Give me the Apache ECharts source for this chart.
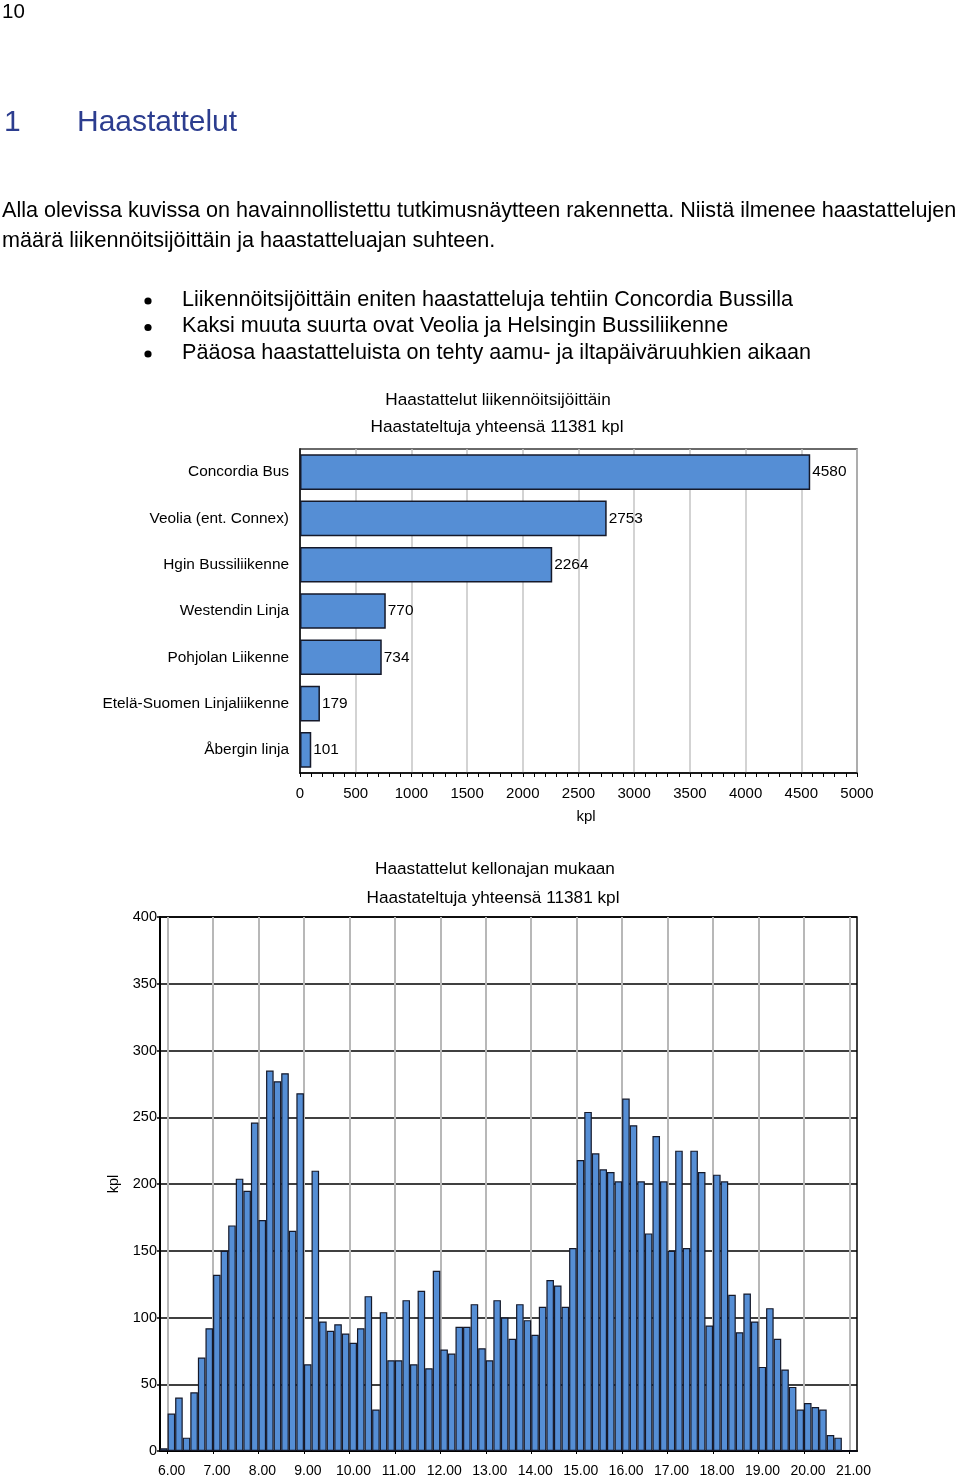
<!DOCTYPE html>
<html>
<head>
<meta charset="utf-8">
<script src="https://cdn.jsdelivr.net/npm/echarts@6/dist/echarts.min.js"></script>
<style>
html,body{margin:0;padding:0;background:#fff;}
#main{width:960px;height:1479px;}
</style>
</head>
<body>
<div id="main"></div>
<script>
// ---- Data: operators chart ----
const operators = ['Concordia Bus', 'Veolia (ent. Connex)', 'Hgin Bussiliikenne', 'Westendin Linja', 'Pohjolan Liikenne', 'Etelä-Suomen Linjaliikenne', 'Åbergin linja'];
const operatorCounts = [4580, 2753, 2264, 770, 734, 179, 101];

// ---- Data: time-of-day histogram (10-minute bins, label = bin start) ----
const binStarts = [
  '5.50',
  '6.00','6.10','6.20','6.30','6.40','6.50',
  '7.00','7.10','7.20','7.30','7.40','7.50',
  '8.00','8.10','8.20','8.30','8.40','8.50',
  '9.00','9.10','9.20','9.30','9.40','9.50',
  '10.00','10.10','10.20','10.30','10.40','10.50',
  '11.00','11.10','11.20','11.30','11.40','11.50',
  '12.00','12.10','12.20','12.30','12.40','12.50',
  '13.00','13.10','13.20','13.30','13.40','13.50',
  '14.00','14.10','14.20','14.30','14.40','14.50',
  '15.00','15.10','15.20','15.30','15.40','15.50',
  '16.00','16.10','16.20','16.30','16.40','16.50',
  '17.00','17.10','17.20','17.30','17.40','17.50',
  '18.00','18.10','18.20','18.30','18.40','18.50',
  '19.00','19.10','19.20','19.30','19.40','19.50',
  '20.00','20.10','20.20','20.30','20.40','20.50',
  '21.00'
];
const binCounts = [
  2,
  28, 40, 10, 44, 70, 92,
  132, 150, 169, 204, 195, 246,
  173, 285, 277, 283, 165, 268,
  65, 210, 97, 90, 95, 88,
  81, 92, 116, 31, 104, 68,
  68, 113, 65, 120, 62, 135,
  76, 73, 93, 93, 110, 77,
  68, 113, 100, 84, 110, 98,
  87, 108, 128, 124, 108, 152,
  218, 254, 223, 211, 209, 202,
  264, 244, 202, 163, 236, 202,
  150, 225, 152, 225, 209, 94,
  207, 202, 117, 89, 118, 97,
  63, 107, 84, 61, 48, 31,
  36, 33, 31, 12, 10, 0,
  0
];
const binEdgeEnd = '21.10';
const hourLabels = ['6.00','7.00','8.00','9.00','10.00','11.00','12.00','13.00','14.00','15.00','16.00','17.00','18.00','19.00','20.00','21.00'];

// ---- Texts ----
const pageNumber = '10';
const headingNumber = '1';
const headingText = 'Haastattelut';
const paragraphLines = [
  'Alla olevissa kuvissa on havainnollistettu tutkimusnäytteen rakennetta. Niistä ilmenee haastattelujen',
  'määrä liikennöitsijöittäin ja haastatteluajan suhteen.'
];
const bullets = [
  'Liikennöitsijöittäin eniten haastatteluja tehtiin Concordia Bussilla',
  'Kaksi muuta suurta ovat Veolia ja Helsingin Bussiliikenne',
  'Pääosa haastatteluista on tehty aamu- ja iltapäiväruuhkien aikaan'
];
const chart1Title = ['Haastattelut liikennöitsijöittäin', 'Haastateltuja yhteensä 11381 kpl'];
const chart2Title = ['Haastattelut kellonajan mukaan', 'Haastateltuja yhteensä 11381 kpl'];
const unitName = 'kpl';

// ---- Build ----
const FONT = '"Liberation Sans", Arial, Helvetica, sans-serif';
const BLUE = '#558ed5';
const EDGE = '#15192a';
const binEdges = binStarts.concat([binEdgeEnd]);
const isHour = (idx) => hourLabels.indexOf(binEdges[idx]) >= 0;

function txt(x, y, s, size, opts) {
  opts = opts || {};
  return {
    type: 'text', x: x, y: y, silent: true,
    style: {
      text: s, fill: opts.color || '#000', font: size + 'px ' + FONT,
      textAlign: opts.align || 'left', textVerticalAlign: 'middle'
    }
  };
}

const graphics = [];
graphics.push(txt(2, 12, pageNumber, 20.5));
graphics.push(txt(4, 123, headingNumber, 30, {color: '#2c3d8f'}));
graphics.push(txt(77, 123, headingText, 30, {color: '#2c3d8f'}));
paragraphLines.forEach((l, i) => graphics.push(txt(2, 211 + i * 30.5, l, 21.6)));
bullets.forEach((b, i) => {
  const y = [300, 326.5, 353][i];
  graphics.push({type: 'circle', silent: true, shape: {cx: 148, cy: y + 1, r: 3.6}, style: {fill: '#000'}});
  graphics.push(txt(182, y, b, 21.6));
});
graphics.push(txt(498, 400, chart1Title[0], 17.2, {align: 'center'}));
graphics.push(txt(497, 427, chart1Title[1], 17.2, {align: 'center'}));
graphics.push(txt(495, 869, chart2Title[0], 17.2, {align: 'center'}));
graphics.push(txt(493, 898, chart2Title[1], 17.2, {align: 'center'}));

const chart = echarts.init(document.getElementById('main'), null, {renderer: 'canvas'});
const option = {
  backgroundColor: '#fff',
  animation: false,
  textStyle: {fontFamily: FONT, color: '#000'},
  graphic: graphics,
  grid: [
    {left: 300, top: 449, width: 557, height: 324, show: true, borderColor: '#3a3a3a', borderWidth: 1.5, backgroundColor: 'transparent', containLabel: false},
    {left: 160, top: 917, width: 697, height: 534, show: true, borderColor: '#000', borderWidth: 1.5, backgroundColor: 'transparent', containLabel: false}
  ],
  xAxis: [
    {
      gridIndex: 0, type: 'value', min: 0, max: 5000, interval: 500,
      name: unitName, nameLocation: 'middle', nameGap: 36,
      nameTextStyle: {fontSize: 15, color: '#000', fontFamily: FONT, padding: [0, 0, 0, 15]},
      axisLine: {show: true, lineStyle: {color: '#000', width: 1.5}},
      axisTick: {show: true, length: 4, lineStyle: {color: '#000', width: 1}},
      minorTick: {show: true, splitNumber: 5, length: 4, lineStyle: {color: '#000', width: 1}},
      axisLabel: {fontSize: 15, color: '#000', margin: 13, fontFamily: FONT, formatter: (v) => String(v)},
      splitLine: {show: true, lineStyle: {color: '#c4c4c4', width: 1.5}}
    },
    {
      gridIndex: 1, type: 'category', data: binStarts, boundaryGap: true,
      axisLine: {show: true, lineStyle: {color: '#000', width: 2}},
      axisTick: {show: false},
      axisLabel: {show: false},
      splitLine: {show: false}
    },
    {
      gridIndex: 1, type: 'category', data: binEdges, boundaryGap: false, position: 'bottom',
      axisLine: {show: false},
      axisTick: {show: true, length: 3, interval: (i) => isHour(i), lineStyle: {color: '#000', width: 1}},
      axisLabel: {show: true, interval: (i) => isHour(i), fontSize: 14, color: '#000', margin: 13, fontFamily: FONT, padding: [0, 0, 0, 8]},
      splitLine: {show: true, interval: (i) => isHour(i), lineStyle: {color: '#b8b8b8', width: 2}}
    }
  ],
  yAxis: [
    {
      gridIndex: 0, type: 'category', data: operators, inverse: true,
      axisLine: {show: true, lineStyle: {color: '#000', width: 1.5}},
      axisTick: {show: false},
      axisLabel: {fontSize: 15.4, color: '#000', margin: 11, fontFamily: FONT},
      splitLine: {show: false}
    },
    {
      gridIndex: 1, type: 'value', min: 0, max: 400, interval: 50,
      name: unitName, nameLocation: 'middle', nameGap: 33, nameRotate: 90,
      nameTextStyle: {fontSize: 14.5, color: '#000', fontFamily: FONT},
      axisLine: {show: true, lineStyle: {color: '#000', width: 2}},
      axisTick: {show: true, length: 3, lineStyle: {color: '#000', width: 1.5}},
      axisLabel: {fontSize: 14.5, color: '#000', margin: 3, fontFamily: FONT},
      splitLine: {show: true, lineStyle: {color: '#000', width: 1.5}}
    }
  ],
  series: [
    {
      type: 'bar', xAxisIndex: 0, yAxisIndex: 0, data: operatorCounts,
      barCategoryGap: '23%',
      itemStyle: {color: BLUE, borderColor: EDGE, borderWidth: 1.5},
      label: {show: true, position: 'right', distance: 2, fontSize: 15.4, color: '#000', fontFamily: FONT},
      z: 3
    },
    {
      type: 'bar', xAxisIndex: 1, yAxisIndex: 1, data: binCounts,
      barCategoryGap: '0%', barGap: '0%',
      itemStyle: {color: BLUE, borderColor: EDGE, borderWidth: 1.2},
      z: 3
    }
  ]
};
chart.setOption(option);
</script>
</body>
</html>
